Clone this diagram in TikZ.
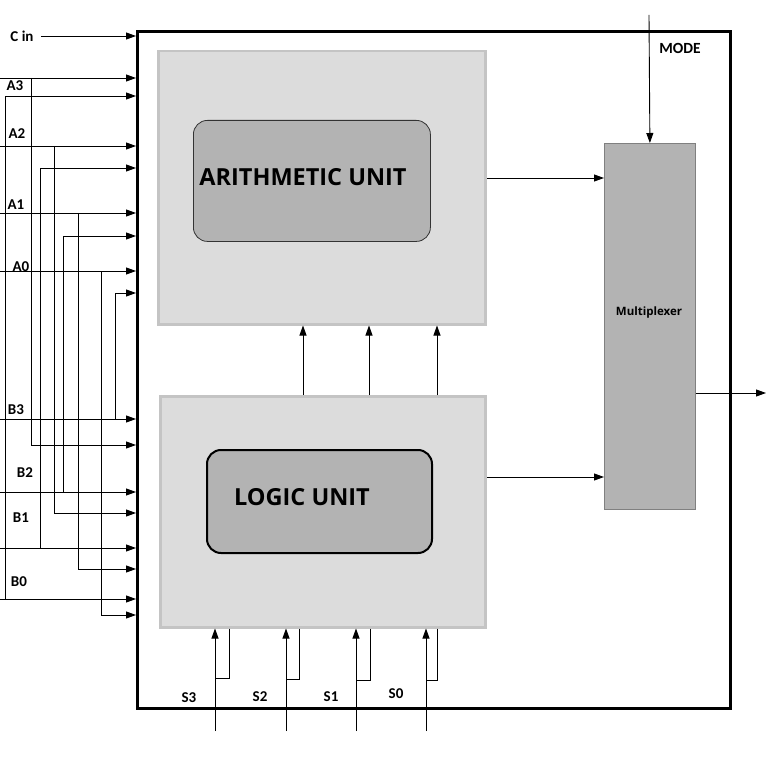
\documentclass[tikz,border=0pt]{standalone}
\usepackage{fontspec}
\setmainfont{Carlito}
\newfontfamily\unitfont{Open Sans}
\usetikzlibrary{arrows.meta, positioning}
\definecolor{unitfill}{HTML}{DCDCDC}
\definecolor{unitedge}{HTML}{C4C4C4}
\definecolor{corefill}{HTML}{B3B3B3}
\tikzset{
  arr/.style={-{Triangle[length=10pt,width=7pt]}},
  unitbox/.style={fill=unitfill, draw=unitedge, line width=2.5pt, anchor=north west, inner sep=0pt},
  corebox/.style={fill=corefill, rounded corners=14pt, anchor=north west, inner sep=0pt},
  lbl/.style={font=\bfseries\fontsize{15}{15}\selectfont, inner sep=0pt},
  unitlbl/.style={font=\unitfont\bfseries\fontsize{23.5}{24}\selectfont, inner sep=0pt},
}

\begin{document}
\begin{tikzpicture}[x=1pt, y=-1pt, line width=0.9pt]
\useasboundingbox (0,0) rectangle (769,757);

\node[draw, line width=3pt, anchor=north west, minimum width=593pt, minimum height=677pt, inner sep=0pt] (alu) at (136,30) {};

% arithmetic unit
\node[unitbox, minimum width=327pt, minimum height=273pt] (au) at (157,50) {};
\node[corebox, draw=gray!40!black, line width=0.8pt, minimum width=237pt, minimum height=121pt] (aucore) at (193,120) {};
\node[unitlbl] (autext) at (303,177) {ARITHMETIC UNIT};

% logic unit
\node[unitbox, minimum width=325pt, minimum height=231pt] (lu) at (159,395) {};
\node[corebox, draw=black, line width=2pt, minimum width=225pt, minimum height=103pt] (lucore) at (206,449) {};
\node[unitlbl] (lutext) at (302,497) {LOGIC UNIT};

% multiplexer
\node[fill=corefill, draw=gray, line width=0.8pt, anchor=north west, minimum width=91pt, minimum height=366pt, inner sep=0pt] (mux) at (604,143) {};
\node[font=\unitfont\bfseries\fontsize{11.5}{12}\selectfont] (muxtext) at (649,313) {Multiplexer};

\coordinate (mode) at (649,15);
\draw[arr] (mode) -- (mux.north);
\node[lbl, font=\bfseries\fontsize{15.5}{15.5}\selectfont] (modetext) at (680,48) {MODE};
\coordinate (out) at (766,393);
\draw[arr] (mux.east |- out) -- (out);

\coordinate (aum) at (487,178);
\draw[arr] (aum) -- (mux.west |- aum);
\coordinate (lum) at (487,477);
\draw[arr] (lum) -- (mux.west |- lum);

\foreach \x in {303,369,437}
{
    \coordinate (up\x) at (\x,395);
    \draw[arr] (lu.north -| up\x) -- (au.south -| up\x);
}

% select lines
\foreach \s/\x/\b/\y/\lx/\ly in {S3/215/229/678/189/698, S2/286/299/679/260/697, S1/356/370/680/331/697, S0/426/437/680/396/694}
{
    \coordinate (\s) at (\x,731);
    \coordinate (\s b) at (\b,\y);
    \draw[arr] (\s) -- (lu.south -| \s);
    \draw (lu.south -| \s b) -- (\s b) -- (\s b -| \s);
    \node[lbl] at (\lx,\ly) {\s};
}

% inputs
\node[lbl] (cin) at (22,36) {C in};
\draw[arr] ([xshift=7pt]cin.east) -- (alu.west |- cin);
\foreach \n/\y/\tx/\ty/\lx/\ly in {A3/78/31/445/15/86, A2/146/54/513/17/134, A1/213/78/569/16/205, A0/271/101/615/21/267, B3/419/115/293/16/410, B2/492/63/236/25/473, B1/548/40/168/21/518, B0/599/5/96/19/582}
{
    \coordinate (\n) at (0,\y);
    \coordinate (\n tap) at (\tx,\y);
    \coordinate (\n end) at (\tx,\ty);
    \draw[arr] (\n) -- (alu.west |- \n);
    \draw[arr] (\n tap) -- (\n end) -- (alu.west |- \n end);
    \node[lbl] at (\lx,\ly) {\n};
}
\end{tikzpicture}
\end{document}
